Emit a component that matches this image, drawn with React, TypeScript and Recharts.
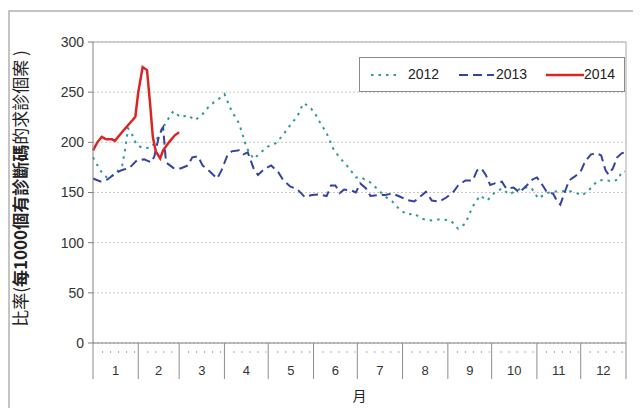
import React from "react";
import {
  LineChart,
  Line,
  XAxis,
  YAxis,
  CartesianGrid,
  ReferenceLine,
  Legend,
  Label,
} from "recharts";

const monthLabels = ["1", "2", "3", "4", "5", "6", "7", "8", "9", "10", "11", "12"];
const monthDays = [31, 28, 31, 30, 31, 30, 31, 31, 30, 31, 30, 31];
const yTicks = [0, 50, 100, 150, 200, 250, 300];

const seriesNames = ["2012", "2013", "2014"];
const seriesColors = ["#2b9a9a", "#3442a0", "#dd2424"];
const seriesDash = ["2.5 5", "9 5", undefined];

// day of year -> rate
const days2012 = [
  0, 5, 10, 15, 20, 22, 24, 27, 30, 35, 40, 45, 50, 55, 60, 65, 70, 75, 80, 85,
  90, 95, 100, 103, 105, 110, 115, 120, 125, 130, 135, 140, 144, 148, 152, 155,
  160, 165, 170, 175, 180, 183, 190, 195, 200, 205, 210, 215, 220, 225, 230, 235,
  240, 245, 250, 255, 260, 265, 270, 275, 280, 285, 290, 295, 300, 305, 310, 315,
  320, 325, 330, 335, 340, 345, 350, 355, 360, 362, 364,
];
const rate2012 = [
  185, 172, 164, 168, 177, 193, 214, 207, 197, 194, 195, 206, 220, 231, 225, 227,
  222, 228, 237, 242, 248, 231, 219, 205, 195, 183.5, 190, 196, 199, 207, 217,
  226, 239, 236, 229, 221, 209, 192, 183, 175, 165, 165.5, 160, 153, 146, 141,
  133, 128, 129, 124, 122, 123, 123, 122, 114, 119, 136, 147, 142, 150, 154, 148,
  152, 155, 155, 144, 149, 151, 151, 152, 150, 147, 153, 161, 163, 161, 163, 171,
  171,
];

const days2013 = [
  0, 5, 10, 15, 20, 25, 30, 35, 40, 42, 45, 47, 48, 50, 55, 60, 65, 68, 72, 75,
  80, 85, 88, 92, 95, 100, 103, 106, 110, 113, 117, 122, 127, 130, 135, 140, 145,
  150, 155, 160, 163, 166, 169, 172, 177, 180, 183, 187, 190, 195, 200, 205, 210,
  215, 220, 225, 228, 232, 237, 242, 247, 250, 255, 260, 263, 266, 269, 272, 276,
  280, 283, 288, 292, 297, 301, 304, 308, 311, 315, 318, 320, 323, 326, 330, 334,
  337, 341, 345, 348, 351, 353, 356, 359, 362, 364,
];
const rate2013 = [
  164, 161, 163, 169, 172.5, 174.5, 182, 183, 180, 186, 205, 213, 215, 180, 174.5,
  174, 177, 185, 186, 177, 171, 164, 172, 187, 191, 192, 188, 190, 174, 167.5,
  173, 177, 170, 163, 156, 153, 145.5, 147.5, 148, 146.5, 157, 157, 149.5, 153,
  152, 150, 159, 154, 146.5, 147.5, 147.5, 149, 146, 142.5, 141, 147, 150.8, 142,
  141, 145, 151, 157, 162, 162, 172, 174, 167.5, 157.5, 159.5, 160.8, 154, 155,
  150, 157, 163, 165, 157, 150, 149, 141, 138, 150, 162, 166, 171, 181, 188, 189,
  187, 172, 168, 174, 185, 189, 190,
];

const days2014 = [0, 3, 6, 9, 13, 15, 17, 21, 24, 27, 29, 31, 34, 37, 39, 41, 43, 46, 48, 52, 56, 59];
const rate2014 = [
  192, 200, 205.5, 203, 203, 201.5, 205, 212, 217, 222, 225.5, 250, 275, 272, 240,
  205, 191, 184, 192, 200, 207, 210,
];

const toRows = (days: number[], rates: number[]) =>
  days.map((d, i) => ({ day: d, rate: rates[i] }));

const seriesData = [
  toRows(days2012, rate2012),
  toRows(days2013, rate2013),
  toRows(days2014, rate2014),
];

const monthStarts = monthDays.reduce<number[]>((acc, d) => [...acc, acc[acc.length - 1] + d], [0]);
const monthMids = monthDays.map((d, i) => monthStarts[i] + d / 2);
const xTicks = [...monthStarts, ...monthMids].sort((a, b) => a - b);

const FONT = '"Liberation Sans", Arial, sans-serif';
const CJK = '"Noto Sans CJK TC", "Noto Sans CJK SC", sans-serif';

const CHART_W = 633;
const CHART_H = 400;
const M = { top: 34, right: 15, bottom: 5, left: 30 };
const Y_W = 55;
const PX_PER_DAY = (CHART_W - M.left - M.right - Y_W) / 365;

const MonthTick = (props: any) => {
  const { x, y, payload } = props;
  const v = payload.value;
  if (monthStarts.indexOf(v) >= 0) {
    return <line x1={x} x2={x} y1={y} y2={y + 36} stroke="#8c8c8c" />;
  }
  const mi = monthMids.indexOf(v);
  const half = (monthDays[mi] / 2) * PX_PER_DAY;
  return (
    <g>
      <line
        x1={x - half + 9}
        x2={x + half - 2}
        y1={y + 9}
        y2={y + 9}
        stroke="#555"
        strokeDasharray="1 7"
      />
      <text
        x={x}
        y={y + 27}
        textAnchor="middle"
        dominantBaseline="central"
        fontSize={13}
        fontFamily={FONT}
        fill="#333"
      >
        {monthLabels[mi]}
      </text>
    </g>
  );
};

const YTitle = (props: any) => {
  const { viewBox } = props;
  const cx = viewBox.x - 19;
  const cy = viewBox.y + viewBox.height / 2 - 4;
  return (
    <text
      x={cx}
      y={cy}
      transform={`rotate(-90, ${cx}, ${cy})`}
      textAnchor="middle"
      dominantBaseline="central"
      fontSize={17}
      fontFamily={CJK}
      fill="#222"
    >
      <tspan>比率(</tspan>
      <tspan fontWeight="bold">每1000個有診斷碼</tspan>
      <tspan>的求診個案 )</tspan>
    </text>
  );
};

const XTitle = (props: any) => {
  const { viewBox } = props;
  return (
    <text
      x={viewBox.x + viewBox.width / 2}
      y={viewBox.y + 52}
      textAnchor="middle"
      dominantBaseline="central"
      fontSize={14}
      fontFamily={CJK}
      fill="#222"
    >
      月
    </text>
  );
};

const LegendBox = () => (
  <div
    style={{
      position: "relative",
      width: 264,
      height: 33,
      border: "1px solid #8a8a8a",
      background: "#fff",
      fontFamily: FONT,
      fontSize: 14,
      color: "#222",
    }}
  >
    {seriesNames.map((name, i) => {
      const left = [11, 99, 186][i];
      const lw = [30, 35, 38][i];
      return (
        <div key={name}>
          <svg
            width={lw}
            height={6}
            style={{ position: "absolute", left, top: 14 }}
          >
            <line
              x1={0}
              x2={lw}
              y1={3}
              y2={3}
              stroke={seriesColors[i]}
              strokeWidth={i === 2 ? 2.5 : 2}
              strokeDasharray={seriesDash[i]}
            />
          </svg>
          <span style={{ position: "absolute", left: left + lw + [7, 2, 0][i], top: 8 }}>
            {name}
          </span>
        </div>
      );
    })}
  </div>
);

export default function App() {
  return (
    <div style={{ position: "relative", width: CHART_W, height: CHART_H }}>
      <style>{"html,body{overflow:hidden}"}</style>
      <div
        style={{
          position: "absolute",
          left: 0,
          top: 2,
          width: 626,
          height: 420,
          borderTop: "2px solid #c4c4c4",
          borderLeft: "2px solid #c4c4c4",
          borderRight: "2px solid #c4c4c4",
        }}
      />
      <LineChart
        width={CHART_W}
        height={CHART_H}
        margin={M}
        style={{ position: "absolute", left: 0, top: 0, fontFamily: FONT }}
      >
        <CartesianGrid
          vertical={false}
          stroke="#c8c8c8"
          strokeDasharray="2 2"
        />
        <XAxis
          dataKey="day"
          type="number"
          domain={[0, 365]}
          ticks={xTicks}
          interval={0}
          tick={<MonthTick />}
          tickLine={false}
          tickSize={0}
          tickMargin={0}
          height={60}
          axisLine={{ stroke: "#808080" }}
          allowDuplicatedCategory={false}
        >
          <Label content={<XTitle />} />
        </XAxis>
        <YAxis
          domain={[0, 300]}
          ticks={yTicks}
          interval={0}
          width={Y_W}
          tickSize={5}
          tickMargin={4}
          axisLine={{ stroke: "#808080" }}
          tickLine={{ stroke: "#808080" }}
          tick={{ fontSize: 14, fill: "#333", fontFamily: FONT }}
        >
          <Label content={<YTitle />} />
        </YAxis>
        <ReferenceLine y={300} stroke="#a8a8a8" />
        <ReferenceLine x={365} stroke="#a8a8a8" />
        <Legend
          layout="horizontal"
          verticalAlign="middle"
          content={<LegendBox />}
          wrapperStyle={{ left: 351, top: 49, width: 266, height: 35 }}
        />
        {seriesData.map((rows, i) => (
          <Line
            key={seriesNames[i]}
            data={rows}
            dataKey="rate"
            name={seriesNames[i]}
            type="linear"
            stroke={seriesColors[i]}
            strokeWidth={i === 2 ? 2.5 : 2}
            strokeDasharray={seriesDash[i]}
            dot={false}
            activeDot={false}
            isAnimationActive={false}
          />
        ))}
      </LineChart>
    </div>
  );
}
